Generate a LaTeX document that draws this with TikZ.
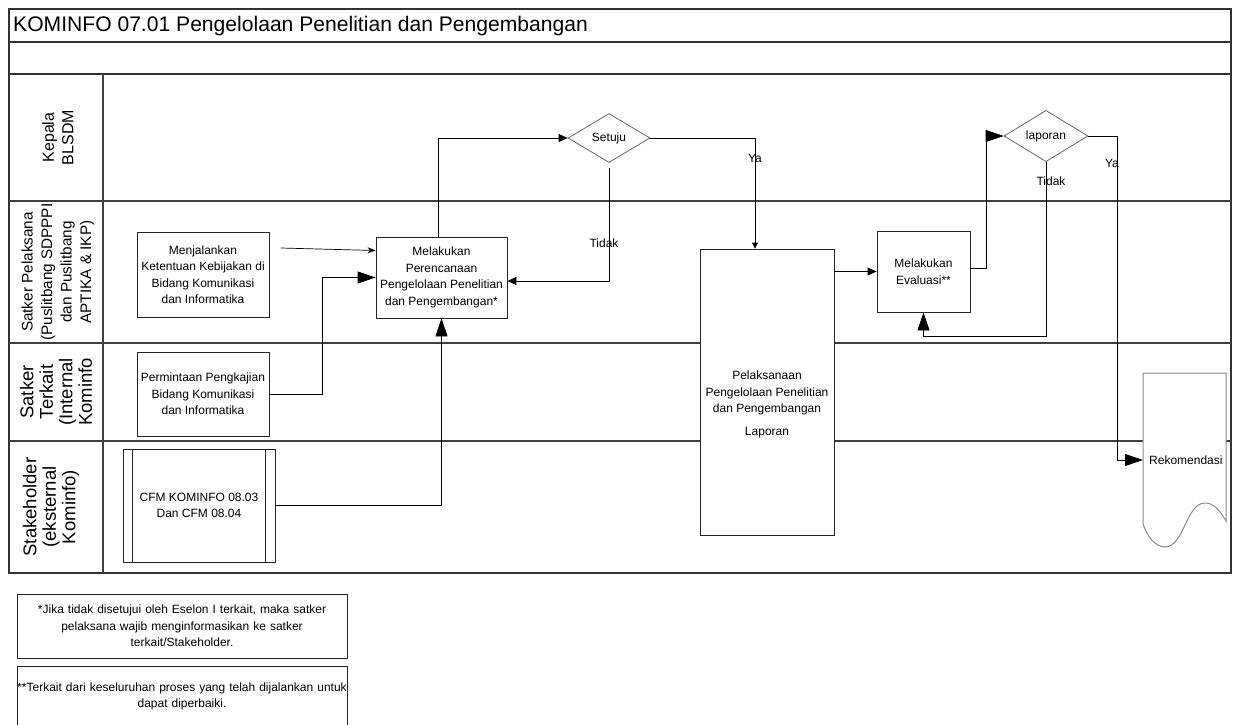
\documentclass[tikz,border=0pt]{standalone}
\usepackage{fontspec}
\setmainfont{Liberation Sans}
\usetikzlibrary{arrows.meta,shapes.geometric}
\newcommand\myNodeFont{\fontsize{12}{16.5}\selectfont}
\newcommand\myLaneFont{\fontsize{16}{19.5}\selectfont}
\newcommand\myLaneFontS{\fontsize{15.3}{19.5}\selectfont}
\newcommand\myLaneFontL{\fontsize{18.5}{19.5}\selectfont}
\newcommand\myTitleFont{\fontsize{21.1}{24}\selectfont}
\begin{document}
\begin{tikzpicture}[x=1pt,y=-1pt,
  frame/.style={draw=black!80, line width=1.2pt},
  lane/.style={draw=black!75, line width=1.1pt},
  box/.style={rectangle, draw=black!85, line width=0.9pt, fill=white, align=center, font=\myNodeFont, inner sep=0pt},
  dia/.style={diamond, draw=black!60, line width=0.8pt, fill=white, inner sep=0pt, font=\myNodeFont},
  lanetext/.style={rotate=90, align=center, font=\myLaneFont, inner sep=0pt},
  conn/.style={draw=black, line width=0.9pt},
  bigarr/.style={conn, -{Triangle[length=18pt,width=12pt]}},
  medarr/.style={conn, -{Triangle[length=9pt,width=8pt]}},
  smarr/.style={conn, -{Triangle[length=6pt,width=6pt]}},
  thinarr/.style={draw=black, line width=0.7pt, -{Stealth[length=8pt,width=6pt]}},
  lbl/.style={font=\myNodeFont, inner sep=0pt},
  note/.style={rectangle, draw=black!85, line width=0.9pt, fill=white, align=center, font=\myNodeFont, inner sep=0pt, text width=330pt}
]
\useasboundingbox (0,0) rectangle (1237,724);
\fill[white] (0,0) rectangle (1237,724);

% frame and lanes
\draw[frame] (9,9) rectangle (1231,573);
\draw[frame] (9,42) -- (1231,42);
\draw[frame] (9,74) -- (1231,74);
\draw[lane] (103,74) -- (103,573);
\draw[lane] (9,201) -- (1231,201);
\draw[lane] (9,343) -- (1231,343);
\draw[lane] (9,441) -- (1231,441);

\node[anchor=west, font=\myTitleFont, inner sep=0pt] (title) at (13,26) {KOMINFO 07.01 Pengelolaan Penelitian dan Pengembangan};

\node[lanetext] (l1) at (58,137.5) {Kepala\\BLSDM};
\node[lanetext, font=\myLaneFontS] (l2) at (58,272) {Satker Pelaksana\\(Puslitbang SDPPPI\\dan Puslitbang\\APTIKA \& IKP)};
\node[lanetext, font=\myLaneFontL] (l3) at (56,392) {Satker\\Terkait\\(Internal\\Kominfo};
\node[lanetext, font=\myLaneFontL] (l4) at (51,507) {Stakeholder\\(eksternal\\Kominfo)};

% Rekomendasi document
\draw[draw=black!45, line width=1pt, fill=white] (1143,373) -- (1226,373) -- (1226,521)
  .. controls (1219,509) and (1213,503) .. (1205,503)
  .. controls (1195,503) and (1190,515) .. (1185,525)
  .. controls (1180,536) and (1174,547) .. (1165,547)
  .. controls (1155,547) and (1147,536) .. (1143,524) -- cycle;
\node[lbl, anchor=west] (rek) at (1149,460) {Rekomendasi};
\coordinate (rekin) at (1143,460);

% nodes
\node[box, minimum width=132pt, minimum height=85pt] (menj) at (203,274.5) {Menjalankan\\Ketentuan Kebijakan di\\Bidang Komunikasi\\dan Informatika};
\node[box, minimum width=131pt, minimum height=81pt] (renc) at (441.5,277.5) {Melakukan\\Perencanaan\\Pengelolaan Penelitian\\dan Pengembangan*};
\node[box, minimum width=132pt, minimum height=84pt] (perm) at (203,394) {Permintaan Pengkajian\\Bidang Komunikasi\\dan Informatika};
\node[box, minimum width=152pt, minimum height=113pt] (cfm) at (199,505.5) {CFM KOMINFO 08.03\\Dan CFM 08.04};
\draw[black!85, line width=0.9pt] ([xshift=10pt]cfm.north west) -- ([xshift=10pt]cfm.south west);
\draw[black!85, line width=0.9pt] ([xshift=-10pt]cfm.north east) -- ([xshift=-10pt]cfm.south east);
\node[dia, minimum width=82pt, minimum height=49pt] (set) at (609,138) {Setuju};
\node[dia, minimum width=84pt, minimum height=50pt] (lap) at (1046,136) {laporan};
\node[box, minimum width=134pt, minimum height=286pt] (big) at (767,392) {};
\node[lbl, align=center] (bigtxt) at (767,393) {Pelaksanaan\\Pengelolaan Penelitian\\dan Pengembangan};
\node[lbl] (bigrep) at (767,433) {Laporan};
\node[box, minimum width=93pt, minimum height=81pt] (eval) at (923.5,271.5) {Melakukan\\Evaluasi**};

% connectors
\coordinate (mstart) at (281,248);
\draw[thinarr] (mstart) -- ([yshift=27pt]renc.west);
\draw[bigarr] (perm.east) -- ++(53,0) |- (renc.west);
\draw[bigarr] (cfm.east) -| (renc.south);
\draw[medarr] ([xshift=-3pt]renc.north) |- (set.west);
\draw[medarr] ([yshift=-5pt]set.south) |- ([yshift=-3.5pt]renc.east);
\draw[smarr] (set.east) -| ([xshift=-12pt]big.north);
\draw[medarr] (big.east |- eval.west) -- (eval.west);
\draw[bigarr] ([yshift=3.5pt]eval.east) -- ++(16,0) |- (lap.west);
\draw[bigarr] (lap.south) -- ++(0,174) -| (eval.south);
\draw[bigarr] (lap.east) -- ++(29,0) |- (rekin);

% labels
\node[lbl] (tidak1) at (604,243) {Tidak};
\node[lbl] (ya1) at (755,158) {Ya};
\node[lbl] (tidak2) at (1051,181) {Tidak};
\node[lbl] (ya2) at (1112,163) {Ya};

% notes
\node[note, minimum height=64pt] (fn1) at (182,626) {*Jika tidak disetujui oleh Eselon I terkait, maka satker\\pelaksana wajib menginformasikan ke satker\\terkait/Stakeholder.};
\node[note, anchor=north, inner ysep=16pt] (fn2) at (182,666) {**Terkait dari keseluruhan proses yang telah dijalankan untuk\\dapat diperbaiki.};
\end{tikzpicture}
\end{document}
